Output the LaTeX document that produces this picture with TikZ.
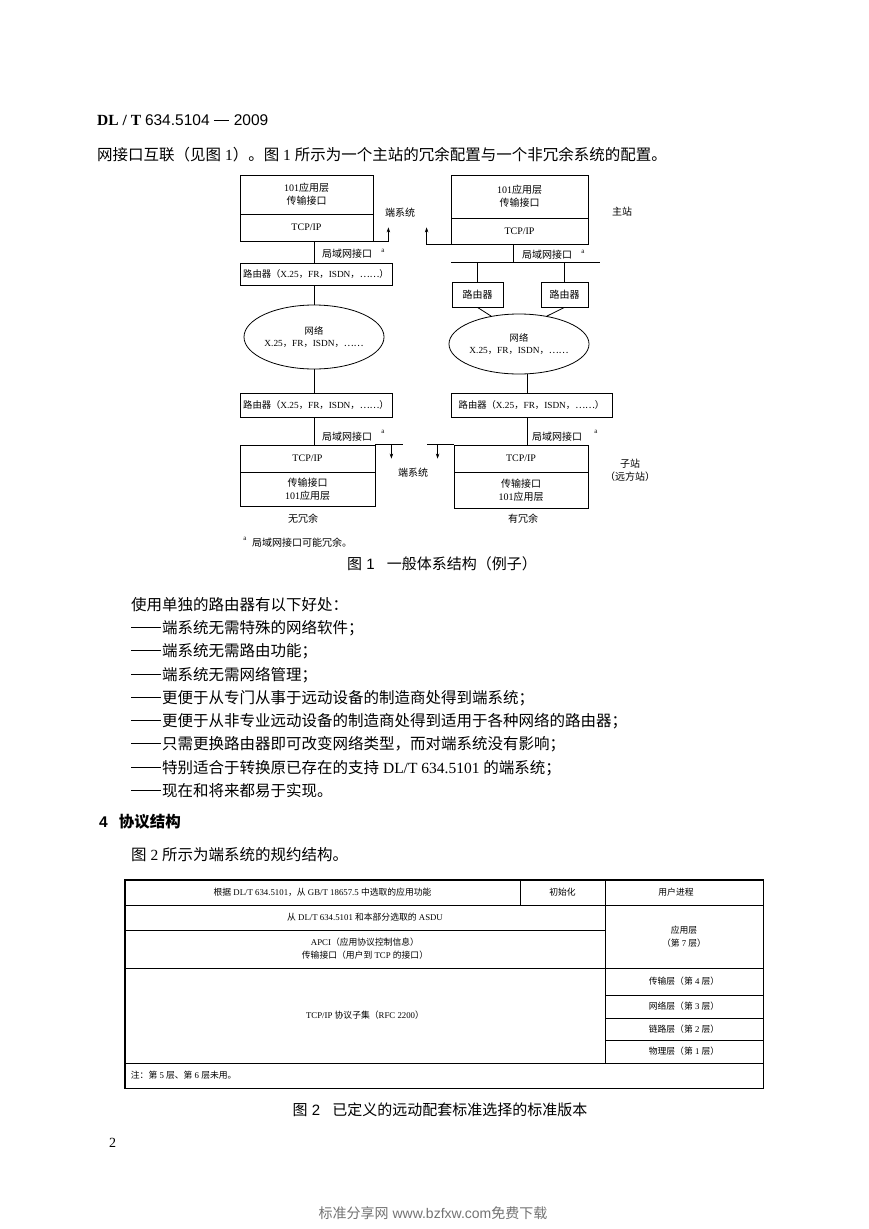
\documentclass[tikz,border=0pt]{standalone}
\usepackage{fontspec}
\usetikzlibrary{shapes.geometric,arrows.meta,calc}
\setmainfont{Liberation Serif}
\setsansfont{Liberation Sans}
\newfontfamily\cjk{Noto Sans CJK SC}
\makeatletter
\XeTeXinterchartokenstate=1
\chardef\CJKcls=7
\newcount\cjkcc
\def\setcjkrange#1#2{\cjkcc=#1\relax\loop\XeTeXcharclass\cjkcc=\CJKcls\relax\ifnum\cjkcc<#2\relax\advance\cjkcc by 1\relax\repeat}
\setcjkrange{"3000}{"303F}
\setcjkrange{"4E00}{"9FFF}
\setcjkrange{"FF00}{"FFEF}
\setcjkrange{"2014}{"2014}
\setcjkrange{"2026}{"2026}
\def\cjksavedfam{\familydefault}
\def\cjkon{\edef\cjksavedfam{\f@family}\cjk}
\def\cjkoff{\fontfamily{\cjksavedfam}\selectfont}
\XeTeXinterchartoks 0 \CJKcls = {\cjkon}
\XeTeXinterchartoks 4095 \CJKcls = {\cjkon}
\XeTeXinterchartoks \CJKcls 0 = {\cjkoff}
\XeTeXinterchartoks \CJKcls 4095 = {\cjkoff}
\makeatother
\newcommand\zhdash{\rule[0.36em]{1.95em}{0.055em}\hspace{0.05em}}
\newcommand\tcell[6]{\node[tab, minimum width={#4-#2}, minimum height={#5-#3}] (#1) at ({(#2+#4)/2},{(#3+#5)/2}) {#6};}
\begin{document}
\begin{tikzpicture}[x=1pt,y=-1pt,
 body/.style={anchor=west, inner sep=0pt, font=\fontsize{15.5}{18}\selectfont},
 figt/.style={inner sep=0pt, font=\fontsize{10}{13}\selectfont, align=center},
 box/.style={draw, line width=0.8pt, inner sep=0pt, align=center, font=\fontsize{10}{13}\selectfont},
 rtr/.style={box, font=\fontsize{9.3}{12.5}\selectfont},
 ell/.style={rtr, ellipse},
 conn/.style={line width=0.8pt},
 arr/.style={line width=0.7pt, -{Stealth[length=5pt,width=3.5pt]}},
 sup/.style={inner sep=0pt, font=\fontsize{7}{8}\selectfont},
 tab/.style={draw, line width=0.6pt, inner sep=0pt, align=center, font=\fontsize{8.8}{13}\selectfont},
 tabt/.style={inner sep=0pt, font=\fontsize{8.8}{13}\selectfont},
 capt/.style={inner sep=0pt, font=\sffamily\fontsize{15}{18}\selectfont},
]
\fill[white] (0,0) rectangle (869,1229);
\useasboundingbox (0,0) rectangle (869,1229);

% header and intro
\node[body] (hdr) at (97,120) {{\bfseries DL / T} {\sffamily 634.5104 \rule[0.3em]{1em}{0.06em} 2009}};
\node[body] (intro) at (97,155) {网接口互联（见图 1）。图 1 所示为一个主站的冗余配置与一个非冗余系统的配置。};

% ---------- Figure 1 ----------
\node[box, minimum width=133, minimum height=39] (LTa) at (306.5,194.5) {101应用层\\传输接口};
\node[box, minimum width=133, minimum height=27] (LTb) at (306.5,227.5) {TCP/IP};
\node[box, minimum width=137, minimum height=43] (RTa) at (519.5,196.5) {101应用层\\传输接口};
\node[box, minimum width=137, minimum height=26] (RTb) at (519.5,231) {TCP/IP};

\node[rtr, minimum width=152, minimum height=22] (LR1) at (316,274) {路由器（X.25，FR，ISDN，……）};
\node[ell, minimum width=136, minimum height=64] (LE) at (314,337) {网络\\X.25，FR，ISDN，……};
\node[rtr, minimum width=152, minimum height=24] (LR2) at (316,405) {路由器（X.25，FR，ISDN，……）};
\node[box, minimum width=135, minimum height=27] (LBa) at (307.5,458.5) {TCP/IP};
\node[box, minimum width=135, minimum height=34] (LBb) at (307.5,489) {传输接口\\101应用层};

\node[box, minimum width=51, minimum height=25] (SR1) at (477.5,294.5) {路由器};
\node[box, minimum width=47, minimum height=25] (SR2) at (564.5,294.5) {路由器};
\node[ell, minimum width=132, minimum height=60] (RE) at (519,344) {网络\\X.25，FR，ISDN，……};
\node[rtr, minimum width=161, minimum height=24] (RR2) at (531.5,405) {路由器（X.25，FR，ISDN，……）};
\node[box, minimum width=134, minimum height=27] (RBa) at (521,458.5) {TCP/IP};
\node[box, minimum width=134, minimum height=36] (RBb) at (521,490) {传输接口\\101应用层};

\coordinate (lx) at (314,0);
\coordinate (rx) at (527,0);
\coordinate (bx) at (513,0);
\coordinate (busL) at (451,262);
\coordinate (busR) at (600,262);

% left chain
\draw[conn] (LTb.south -| lx) -- (LR1.north -| lx);
\draw[conn] (LR1.south -| lx) -- (LE.north);
\draw[conn] (LE.south) -- (LR2.north -| LE.south);
\draw[conn] (LR2.south -| lx) -- (LBa.north -| lx);
\draw[arr] (LTb.south east) -- ++(15,0) -- ++(0,-14);
\draw[conn] (LBa.north east) -- ++(28,0);
\draw[arr] ($(LBa.north east)+(16,0)$) -- ++(0,14);

% right chain
\draw[conn] (busL) -- (busR);
\draw[conn] (RTb.south -| bx) -- (busL -| bx);
\draw[conn] (SR1.north) -- (SR1.north |- busL);
\draw[conn] (SR2.north) -- (SR2.north |- busL);
\draw[conn] (SR1.south) -- (RE.135);
\draw[conn] (SR2.south) -- (RE.45);
\draw[conn] (RE.south -| rx) -- (RR2.north -| rx);
\draw[conn] (RR2.south -| rx) -- (RBa.north -| rx);
\draw[arr] (RTb.south west) -- ++(-24,0) -- ++(0,-17);
\draw[conn] (RBa.north west) -- ++(-27,0);
\draw[arr] ($(RBa.north west)+(-16,0)$) -- ++(0,14);

% labels
\node[figt] (es1) at (400,213) {端系统};
\node[figt] (es2) at (413,473) {端系统};
\node[figt] (zz) at (622,212) {主站};
\node[figt] (zs) at (630,470) {子站\\（远方站）};
\node[figt] (lan1) at (347,254) {局域网接口};
\node[sup] (a1) at (383,251) {a};
\node[figt] (lan2) at (547,255) {局域网接口};
\node[sup] (a2) at (583,252) {a};
\node[figt] (lan3) at (347,437) {局域网接口};
\node[sup] (a3) at (383,432) {a};
\node[figt] (lan4) at (557,437) {局域网接口};
\node[sup] (a4) at (596,432) {a};
\node[figt] (nored) at (303,519) {无冗余};
\node[figt] (red) at (523,519) {有冗余};
\node[sup] (a5) at (245,539) {a};
\node[figt, anchor=west] (fn) at (252,543) {局域网接口可能冗余。};
\node[capt] (cap1) at (442,564) {图 1\hspace{12pt}一般体系结构（例子）};

% ---------- text ----------
\node[body] (t0) at (131,605) {使用单独的路由器有以下好处：};
\node[body] (t1) at (131,628.25) {\zhdash 端系统无需特殊的网络软件；};
\node[body] (t2) at (131,651.5) {\zhdash 端系统无需路由功能；};
\node[body] (t3) at (131,674.75) {\zhdash 端系统无需网络管理；};
\node[body] (t4) at (131,698) {\zhdash 更便于从专门从事于远动设备的制造商处得到端系统；};
\node[body] (t5) at (131,721.25) {\zhdash 更便于从非专业远动设备的制造商处得到适用于各种网络的路由器；};
\node[body] (t6) at (131,744.5) {\zhdash 只需更换路由器即可改变网络类型，而对端系统没有影响；};
\node[body] (t7) at (131,767.75) {\zhdash 特别适合于转换原已存在的支持 DL/T 634.5101 的端系统；};
\node[body] (t8) at (131,791) {\zhdash 现在和将来都易于实现。};

\node[body, font=\sffamily\bfseries\fontsize{15.5}{18}\selectfont] (sec) at (99,822) {4\hspace{11pt}协议结构};
\node[body] (t9) at (131,855) {图 2 所示为端系统的规约结构。};

% ---------- Figure 2 (table) ----------
\tcell{C1}{125}{880}{520}{905}{根据 DL/T 634.5101，从 GB/T 18657.5 中选取的应用功能}
\tcell{C2}{520}{880}{605}{905}{初始化}
\tcell{C3}{605}{880}{763}{905}{}
\node[tabt] (C3t) at (676,892.5) {用户进程};
\tcell{C4}{125}{905}{605}{930}{从 DL/T 634.5101 和本部分选取的 ASDU}
\tcell{C5}{125}{930}{605}{968}{APCI（应用协议控制信息）\\传输接口（用户到 TCP 的接口）}
\tcell{C6}{605}{905}{763}{968}{应用层\\（第 7 层）}
\tcell{C7}{125}{968}{605}{1063}{TCP/IP 协议子集（RFC 2200）}
\tcell{C8}{605}{968}{763}{995}{传输层（第 4 层）}
\tcell{C9}{605}{995}{763}{1018}{网络层（第 3 层）}
\tcell{C10}{605}{1018}{763}{1040}{链路层（第 2 层）}
\tcell{C11}{605}{1040}{763}{1063}{物理层（第 1 层）}
\tcell{C12}{125}{1063}{763}{1088}{}
\node[tabt, anchor=west] (note) at ($(C12.west)+(6,0)$) {注：第 5 层、第 6 层未用。};
\draw[line width=0.9pt] (C1.north west) rectangle (C12.south east);

\node[capt] (cap2) at (440,1110) {图 2\hspace{12pt}已定义的远动配套标准选择的标准版本};

\node[body, font=\fontsize{14}{16}\selectfont] (pg) at (109,1143) {2};
\node[inner sep=0pt, text=black!55, font=\sffamily\fontsize{14}{16}\selectfont] (foot) at (433,1213) {标准分享网 www.bzfxw.com免费下载};
\end{tikzpicture}
\end{document}
